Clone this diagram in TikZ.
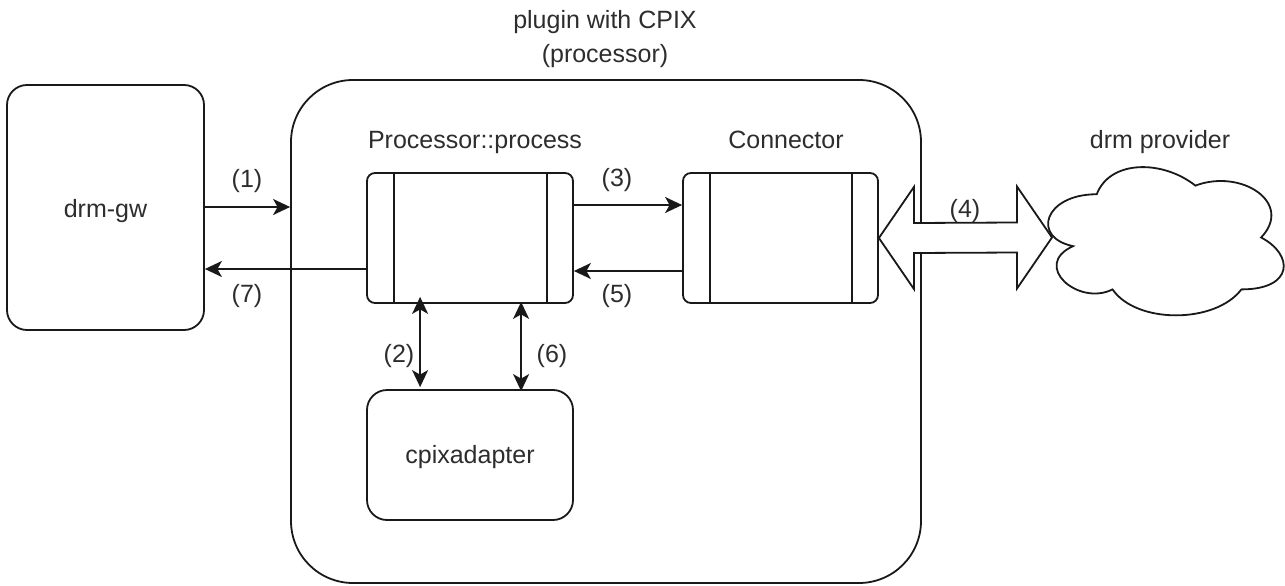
\documentclass[tikz,border=0pt]{standalone}
\usepackage{fontspec}
\setmainfont{Liberation Sans}
\usetikzlibrary{arrows.meta,calc}
\definecolor{ink}{RGB}{25,25,25}
\definecolor{txt}{RGB}{45,45,45}
\newcommand\labelfont{\fontsize{25}{30}\selectfont}
\tikzset{
  box/.style={draw=ink, line width=1.8pt, fill=white, inner sep=0pt, rounded corners=20pt},
  procbox/.style={box, rounded corners=8pt, minimum width=206pt, minimum height=130pt},
  lbl/.style={font=\labelfont, text=txt, inner sep=0pt, anchor=base},
  tip/.style={Stealth[length=17pt,width=16pt,inset=4.5pt]},
  flow/.style={draw=ink, line width=1.8pt, -{Stealth[length=17pt,width=16pt,inset=4.5pt]}},
  bothflow/.style={draw=ink, line width=1.8pt, {Stealth[length=17pt,width=16pt,inset=4.5pt]}-{Stealth[length=17pt,width=16pt,inset=4.5pt]}},
  sidebar/.style={draw=ink, line width=1.8pt}
}
\begin{document}
\begin{tikzpicture}[x=1pt, y=-1pt]
\useasboundingbox (0,0) rectangle (1285,586);

% outer plugin container and its title
\node[box, rounded corners=62pt, minimum width=630pt, minimum height=503pt] (plugin) at (606,331.5) {};
\node[lbl] (title1) at (605,29) {plugin with CPIX};
\node[lbl] (title2) at (605,63) {(processor)};

% gateway on the left
\node[box, minimum width=197pt, minimum height=245pt] (gw) at (105.5,207.5) {};
\node[lbl] (gwtext) at (105.5,217) {drm-gw};

% processor with its two side bars
\node[procbox] (proc) at (470,238) {};
\draw[sidebar] ($(proc.north west)+(28,0)$) -- ($(proc.south west)+(28,0)$);
\draw[sidebar] ($(proc.north east)+(-27,0)$) -- ($(proc.south east)+(-27,0)$);
\node[lbl] (proctext) at (475,148) {Processor::process};

% connector with its two side bars
\node[procbox, minimum width=195pt] (conn) at (780.5,238) {};
\draw[sidebar] ($(conn.north west)+(28,0)$) -- ($(conn.south west)+(28,0)$);
\draw[sidebar] ($(conn.north east)+(-27,0)$) -- ($(conn.south east)+(-27,0)$);
\node[lbl] (conntext) at (786,148) {Connector};

% adapter
\node[box, minimum width=206pt, minimum height=130pt] (cpix) at (470,455) {};
\node[lbl] (cpixtext) at (470,463) {cpixadapter};

% provider cloud
\coordinate (cloudL) at (1052,237.5);
\draw[draw=ink, line width=1.8pt, fill=white]
  (1096.75,194.25)
  .. controls (1044.15,194.25) and (1031,237.5) .. (1073.08,246.15)
  .. controls (1031,265.18) and (1078.34,306.7) .. (1112.53,289.4)
  .. controls (1136.2,324) and (1215.1,324) .. (1241.4,289.4)
  .. controls (1294,289.4) and (1294,254.8) .. (1261.125,237.5)
  .. controls (1294,202.9) and (1241.4,168.3) .. (1195.375,185.6)
  .. controls (1162.5,159.65) and (1109.9,159.65) .. (1096.75,194.25) -- cycle;
\node[lbl] (cloudtext) at (1160,148) {drm provider};

% request / response flows
\coordinate (in1) at (plugin.west |- 0,207);
\draw[flow] (gw.east |- in1) -- (in1);
\node[lbl] (l1) at (247,187) {(1)};

\coordinate (out7) at (proc.west |- 0,269);
\draw[flow] (out7) -- (gw.east |- out7);
\node[lbl] (l7) at (247,302) {(7)};

\coordinate (a3) at (proc.east |- 0,205);
\draw[flow] (a3) -- (conn.west |- a3);
\node[lbl] (l3) at (617,186) {(3)};

\coordinate (a5) at (conn.west |- 0,271);
\draw[flow] (a5) -- (proc.east |- a5);
\node[lbl] (l5) at (617,302) {(5)};

\draw[bothflow] ($(proc.south west)+(54,-7)$) -- ($(cpix.north west)+(54,-2)$);
\node[lbl] (l2) at (399,362) {(2)};
\draw[bothflow] ($(proc.south west)+(155,-2)$) -- ($(cpix.north west)+(155,2)$);
\node[lbl] (l6) at (552,362) {(6)};

% two-way block arrow between connector and provider
\draw[draw=ink, line width=1.8pt, fill=white, line join=miter]
  (conn.east) -- ++(35,-51) -- ++(0,36) -- ($(cloudL)+(-35,-15)$) -- ++(0,-36)
  -- (cloudL) -- ++(-35,51) -- ++(0,-36) -- ($(conn.east)+(35,15)$) -- ++(0,36) -- cycle;
\node[lbl] (l4) at (965,217) {(4)};
\end{tikzpicture}
\end{document}
